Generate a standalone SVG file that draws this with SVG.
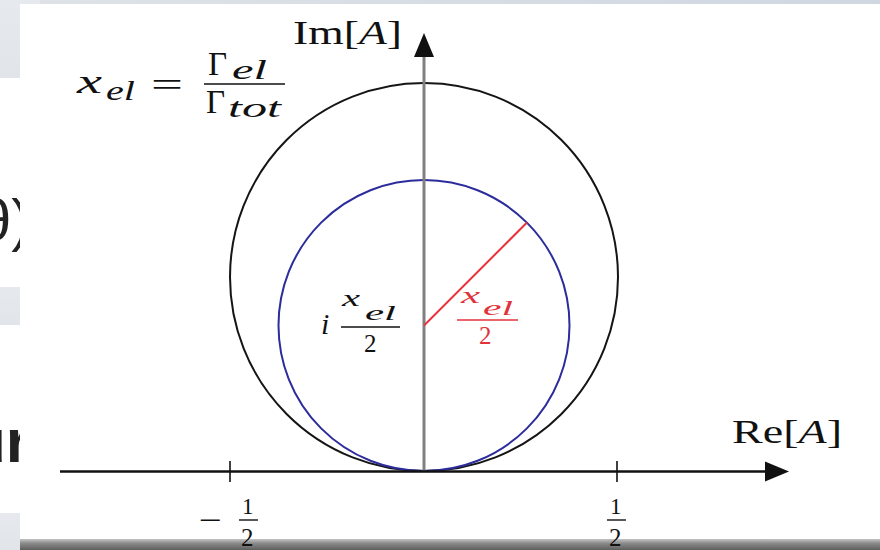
<svg xmlns="http://www.w3.org/2000/svg" width="880" height="550" viewBox="0 0 880 550">
  <style>
    .m { font-family: "Liberation Serif", "DejaVu Serif", serif; fill: #111; }
    .it { font-style: italic; }
    .red { fill: #e0333b; }
    .slide { font-family: "Liberation Sans", Arial, sans-serif; fill: #222; }
    .bar { stroke: #111; stroke-width: 1.4; }
  </style>
  <defs>
    <linearGradient id="topStrip" x1="0" y1="0" x2="1" y2="0">
      <stop offset="0" stop-color="#dfe3e8"/>
      <stop offset="1" stop-color="#cfd7e1"/>
    </linearGradient>
    <linearGradient id="bottomBar" x1="0" y1="0" x2="0" y2="1">
      <stop offset="0" stop-color="#c4c4c4"/>
      <stop offset="0.4" stop-color="#8a8a8a"/>
      <stop offset="1" stop-color="#5e5e5e"/>
    </linearGradient>
    <linearGradient id="sideBox" x1="0" y1="0" x2="0" y2="1">
      <stop offset="0" stop-color="#e6e9ed"/>
      <stop offset="1" stop-color="#e1e4e8"/>
    </linearGradient>
  </defs>

  <!-- slide background -->
  <g id="slide">
    <rect x="0" y="0" width="880" height="550" fill="#ffffff"/>
    <rect x="0" y="0" width="880" height="4" fill="url(#topStrip)"/>
    <rect x="0" y="0" width="40" height="78" fill="url(#sideBox)"/>
    <rect x="0" y="287" width="40" height="38" fill="url(#sideBox)"/>
    <rect x="0" y="513" width="40" height="37" fill="url(#sideBox)"/>
    <text class="slide" x="-21" y="240" font-size="58">θ)</text>
    <text class="slide" x="-32" y="462" font-size="62" font-weight="bold">ur</text>
  </g>

  <!-- white panel with the diagram -->
  <rect id="panel" x="20" y="4" width="860" height="536" fill="#ffffff"/>

  <g id="circles" fill="none">
    <circle id="outer-circle" cx="424" cy="277" r="194" stroke="#151515" stroke-width="2"/>
    <circle id="inner-circle" cx="424" cy="325.5" r="145.5" stroke="#2c2c9c" stroke-width="2"/>
  </g>

  <g id="connectors">
    <!-- vertical axis -->
    <line x1="424" y1="471" x2="424" y2="56" stroke="#808080" stroke-width="3"/>
    <polygon points="424,33 414,57 434,57" fill="#111"/>
    <!-- horizontal axis -->
    <line x1="60" y1="471.5" x2="768" y2="471.5" stroke="#111" stroke-width="2.6"/>
    <polygon points="789,471.5 765,461.5 765,481.5" fill="#111"/>
    <!-- ticks -->
    <line x1="230" y1="461" x2="230" y2="482" stroke="#111" stroke-width="1.6"/>
    <line x1="617" y1="461" x2="617" y2="482" stroke="#111" stroke-width="1.6"/>
    <!-- radius -->
    <line x1="424" y1="325.5" x2="527" y2="222.5" stroke="#e8333c" stroke-width="2"/>
  </g>

  <g id="bottom">
    <rect x="20" y="539" width="860" height="11" fill="url(#bottomBar)"/>
  </g>

  <g id="label-im">
    <text class="m" x="293" y="44" font-size="33" textLength="109" lengthAdjust="spacingAndGlyphs">Im[<tspan class="it">A</tspan>]</text>
  </g>
  <g id="label-re">
    <text class="m" x="732" y="443" font-size="33" textLength="110" lengthAdjust="spacingAndGlyphs">Re[<tspan class="it">A</tspan>]</text>
  </g>

  <g id="label-xel">
    <text class="m it" x="77" y="93" font-size="34" textLength="25" lengthAdjust="spacingAndGlyphs">x</text>
    <text class="m it" x="106" y="100" font-size="27" textLength="29" lengthAdjust="spacingAndGlyphs">el</text>
    <text class="m" x="151" y="96" font-size="34" textLength="32" lengthAdjust="spacingAndGlyphs">=</text>
    <text class="m" x="208" y="75" font-size="33">Γ</text>
    <text class="m it" x="232" y="79" font-size="27" textLength="35" lengthAdjust="spacingAndGlyphs">el</text>
    <line class="bar" x1="204" y1="84" x2="285" y2="84"/>
    <text class="m" x="206" y="113" font-size="33">Γ</text>
    <text class="m it" x="228" y="117" font-size="27" textLength="53" lengthAdjust="spacingAndGlyphs">tot</text>
  </g>

  <g id="label-center">
    <text class="m it" x="321" y="334" font-size="30">i</text>
    <text class="m it" x="342" y="306" font-size="24" textLength="18" lengthAdjust="spacingAndGlyphs">x</text>
    <text class="m it" x="365" y="320" font-size="22" textLength="31" lengthAdjust="spacingAndGlyphs">el</text>
    <line class="bar" x1="341" y1="327" x2="400" y2="327"/>
    <text class="m" x="364" y="352" font-size="25">2</text>
  </g>

  <g id="label-radius">
    <text class="m it red" x="461" y="303" font-size="24" textLength="19" lengthAdjust="spacingAndGlyphs">x</text>
    <text class="m it red" x="483" y="315" font-size="22" textLength="30" lengthAdjust="spacingAndGlyphs">el</text>
    <line x1="457" y1="320" x2="518" y2="320" stroke="#e0333b" stroke-width="1.4"/>
    <text class="m red" x="479" y="344" font-size="25">2</text>
  </g>

  <g id="tick-labels">
    <text class="m" x="199" y="530" font-size="30" textLength="23" lengthAdjust="spacingAndGlyphs">−</text>
    <text class="m" x="242" y="514" font-size="23">1</text>
    <line class="bar" x1="239" y1="520" x2="258" y2="520"/>
    <text class="m" x="241" y="546" font-size="25">2</text>
    <text class="m" x="610" y="514" font-size="23">1</text>
    <line class="bar" x1="607" y1="520" x2="626" y2="520"/>
    <text class="m" x="609" y="546" font-size="25">2</text>
  </g>
</svg>
